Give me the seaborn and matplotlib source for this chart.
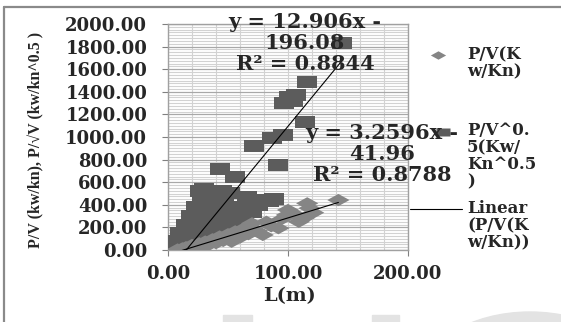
import matplotlib
matplotlib.use("Agg")
import matplotlib.pyplot as plt
from matplotlib.path import Path
from matplotlib.lines import Line2D
from matplotlib.patches import Ellipse, Rectangle
from matplotlib.ticker import MultipleLocator, FormatStrFormatter
import seaborn as sns
import pandas as pd
import numpy as np

# ---------------------------------------------------------------
# data (L in m)
# ---------------------------------------------------------------
sq_x = [145, 116, 107, 101, 97, 104, 114, 96, 87, 72, 92, 43, 56,
        35, 52, 66, 79, 88, 61, 75, 30, 40, 47, 58, 70, 84, 27, 45,
        5, 8, 10, 13, 15, 17, 19, 21, 23, 25, 26, 28, 29, 31, 33, 35,
        36, 38, 40, 42, 44, 46, 49, 51, 54, 57, 63, 48, 22, 12]
sq_y = [1830, 1490, 1375, 1355, 1300, 1320, 1136, 1018, 990, 920, 752, 717, 650,
        516, 504, 472, 440, 455, 265, 400, 540, 480, 420, 380, 340, 430, 520, 520,
        30, 80, 150, 60, 220, 120, 300, 180, 380, 250, 100, 440, 320, 200, 140, 400,
        270, 350, 220, 160, 300, 240, 360, 290, 200, 320, 300, 120, 40, 10]

dm_x = [8, 12, 15, 18, 20, 23, 26, 28, 31, 34, 37, 40, 43, 46, 50, 53, 56, 60,
        63, 67, 70, 74, 79, 82, 86, 92, 95, 99, 100, 105, 109, 113, 116, 118, 121, 142]
dm_y = [5, 15, 25, 10, 45, 30, 60, 20, 75, 45, 95, 60, 120, 80, 140, 73, 165, 110,
        190, 140, 236, 170, 133, 250, 210, 193, 275, 310, 354, 320, 250, 281, 413, 370, 330, 442]

# excel trendlines: slope, intercept
trend_slope = [3.2596, 12.906]
trend_icpt = [-41.96, -196.08]

eq_sq = "y = 12.906x -\n196.08\nR² = 0.8844"
eq_dm = "y = 3.2596x -\n41.96\nR² = 0.8788"

lbl_dm = "P/V(K\nw/Kn)"
lbl_sq = "P/V^0.\n5(Kw/\nKn^0.5\n)"
lbl_lin = "Linear\n(P/V(K\nw/Kn))"

y_ticks = np.arange(0, 2001, 200)
x_ticks = [0, 100, 200]

sns.set_style("white")
plt.rcParams['font.family'] = ['DejaVu Serif', 'DejaVu Sans']

W, H = 561, 322
fig = plt.figure(figsize=(W / 100, H / 100), dpi=100)

# stretched-looking markers (picture is wider than tall)
rect_m = Path([(-1, -0.6), (1, -0.6), (1, 0.6), (-1, 0.6), (-1, -0.6)],
              [Path.MOVETO, Path.LINETO, Path.LINETO, Path.LINETO, Path.CLOSEPOLY])
diam_m = Path([(-1, 0), (0, 0.55), (1, 0), (0, -0.55), (-1, 0)],
              [Path.MOVETO, Path.LINETO, Path.LINETO, Path.LINETO, Path.CLOSEPOLY])

SQ_COL = "#5c5c5c"
DM_COL = "#858585"


def px(x, y):
    # pixel (from top-left) -> figure fraction
    return x / W, 1 - y / H


ax = fig.add_axes([168 / W, 1 - 250 / H, (408 - 168) / W, (250 - 24) / H])

df_sq = pd.DataFrame({'L': sq_x, 'P': sq_y})
df_dm = pd.DataFrame({'L': dm_x, 'P': dm_y})

sns.scatterplot(data=df_sq, x='L', y='P', ax=ax, marker=rect_m, s=14.5 ** 2,
                color=SQ_COL, edgecolor='none', linewidth=0, zorder=3)
sns.scatterplot(data=df_dm, x='L', y='P', ax=ax, marker=diam_m, s=16 ** 2,
                color=DM_COL, edgecolor='none', linewidth=0, zorder=4)

# trendlines over each series x-range
for xs, k, b in [(dm_x, trend_slope[0], trend_icpt[0]), (sq_x, trend_slope[1], trend_icpt[1])]:
    xx = np.array([min(xs), max(xs)])
    ax.plot(xx, k * xx + b, color='black', lw=0.8, zorder=5)

ax.set_xlim(0, 200)
ax.set_ylim(0, 2000)
ax.set_yticks(y_ticks)
ax.set_xticks(x_ticks)
ax.yaxis.set_major_formatter(FormatStrFormatter('%.2f'))
ax.xaxis.set_major_formatter(FormatStrFormatter('%.2f'))
ax.xaxis.set_minor_locator(MultipleLocator(20))
ax.yaxis.set_minor_locator(MultipleLocator(25))
ax.grid(which='minor', color='#d2d2d2', lw=0.8, zorder=0)
ax.grid(which='major', axis='x', color='#d2d2d2', lw=0.8, zorder=0)
ax.grid(which='major', axis='y', color='#a8a8a8', lw=0.9, zorder=0)
ax.set_axisbelow(True)
ax.tick_params(which='major', direction='out', length=4, width=0.8, color='#808080',
               labelsize=13, left=True, bottom=True)
ax.tick_params(axis='y', pad=11)
ax.tick_params(axis='x', pad=7)
ax.tick_params(which='minor', length=0)
for lab in ax.get_xticklabels() + ax.get_yticklabels():
    lab.set_fontweight('bold')
for sp in ax.spines.values():
    sp.set_color('#a0a0a0')
    sp.set_linewidth(1)

ax.set_xlabel("")
ax.set_ylabel("")
fig.text(*px(289, 296), "L(m)", ha='center', va='center', fontsize=14, fontweight='bold')
fig.text(*px(36, 140), "P/V (kw/kn), P/√V (kw/kn^0.5 )", rotation=90, ha='center', va='center',
         fontsize=11.5, fontweight='bold', family=['Liberation Serif', 'DejaVu Serif'])

# trendline equations
fig.text(*px(305, 43), eq_sq, ha='center', va='center', fontsize=15, fontweight='bold',
         linespacing=1.05, zorder=6)
fig.text(*px(382, 154), eq_dm, ha='center', va='center', fontsize=15, fontweight='bold',
         linespacing=1.05, zorder=6)

# legend, drawn by hand to keep Excel's layout
leg_kw = dict(ha='left', va='top', fontsize=12, fontweight='bold', linespacing=1.0)
fig.add_artist(Line2D([438 / W], [1 - 55 / H], marker=diam_m, ms=11, color=DM_COL, mec='none'))
fig.text(*px(467, 46), lbl_dm, **leg_kw)
fig.add_artist(Line2D([443 / W], [1 - 132 / H], marker=rect_m, ms=10, color=SQ_COL, mec='none'))
fig.text(*px(467, 122), lbl_sq, **leg_kw)
fig.add_artist(Line2D([410 / W, 462 / W], [1 - 209 / H, 1 - 209 / H], color='black', lw=0.8))
fig.text(*px(467, 200), lbl_lin, **leg_kw)

# chart area border (top and left visible)
fig.add_artist(Line2D([4 / W, 1], [1 - 7 / H, 1 - 7 / H], color='#8a8a8a', lw=1.6))
fig.add_artist(Line2D([4 / W, 4 / W], [0, 1 - 7 / H], color='#8a8a8a', lw=1.6))

# faint scan watermark at the bottom
wm = '#e3e3e3'
fig.add_artist(Rectangle((223, 0), 29, 7, transform=None, color=wm, zorder=-1))
fig.add_artist(Rectangle((372, 0), 27, 7, transform=None, color=wm, zorder=-1))
fig.add_artist(Ellipse((530, -60), 220, 140, transform=None, color=wm, zorder=-1))

fig.savefig("out.png", dpi=100)
